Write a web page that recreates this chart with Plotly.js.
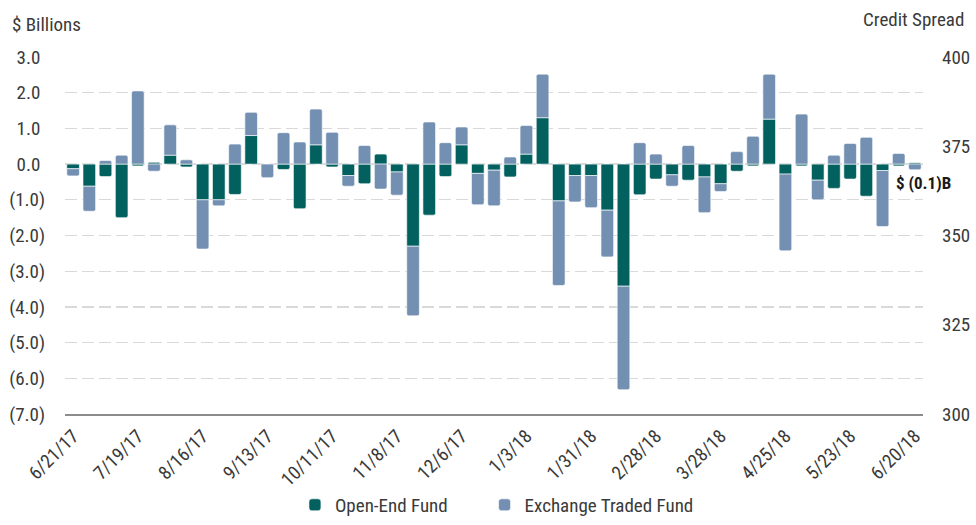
<!DOCTYPE html>
<html>
<head>
<meta charset="utf-8">
<script src="https://cdn.plot.ly/plotly-3.0.1.min.js"></script>
<style>
  html, body { margin: 0; padding: 0; background: #fff; }
  #chart { width: 976px; height: 525px; }
</style>
</head>
<body>
<div id="chart"></div>
<script>
const weeks = ["6/21/17","6/28/17","7/5/17","7/12/17","7/19/17","7/26/17","8/2/17","8/9/17","8/16/17","8/23/17",
  "8/30/17","9/6/17","9/13/17","9/20/17","9/27/17","10/4/17","10/11/17","10/18/17","10/25/17","11/1/17",
  "11/8/17","11/15/17","11/22/17","11/29/17","12/6/17","12/13/17","12/20/17","12/27/17","1/3/18","1/10/18",
  "1/17/18","1/24/18","1/31/18","2/7/18","2/14/18","2/21/18","2/28/18","3/7/18","3/14/18","3/21/18",
  "3/28/18","4/4/18","4/11/18","4/18/18","4/25/18","5/2/18","5/9/18","5/16/18","5/23/18","5/30/18",
  "6/6/18","6/13/18","6/20/18"];

const openEndFund = [-0.13, -0.62, -0.35, -1.5, -0.05, 0.05, 0.25, -0.08, -1.0, -1.0,
  -0.85, 0.8, 0.0, -0.15, -1.25, 0.54, -0.08, -0.32, -0.55, 0.28,
  -0.22, -2.3, -1.43, -0.35, 0.54, -0.26, -0.17, -0.36, 0.28, 1.3,
  -1.03, -0.32, -0.32, -1.29, -3.42, -0.86, -0.42, -0.3, -0.45, -0.36,
  -0.55, -0.2, -0.05, 1.26, -0.28, -0.05, -0.45, -0.68, -0.42, -0.9,
  -0.18, -0.05, 0.04];

const exchangeTradedFund = [-0.2, -0.7, 0.1, 0.25, 2.05, -0.2, 0.85, 0.12, -1.38, -0.17,
  0.56, 0.65, -0.38, 0.88, 0.62, 1.0, 0.89, -0.3, 0.52, -0.7,
  -0.65, -1.95, 1.18, 0.6, 0.5, -0.88, -1.0, 0.2, 0.8, 1.22,
  -2.37, -0.74, -0.9, -1.31, -2.9, 0.6, 0.28, -0.32, 0.52, -1.0,
  -0.22, 0.35, 0.78, 1.26, -2.15, 1.4, -0.55, 0.25, 0.58, 0.75,
  -1.57, 0.3, -0.16];

const leftTickVals = [3, 2, 1, 0, -1, -2, -3, -4, -5, -6, -7];
const rightTickVals = [300, 325, 350, 375, 400];

const FONT = "'Roboto Condensed', 'Liberation Sans Narrow', 'DejaVu Sans Condensed', 'Arial Narrow', Roboto, sans-serif";
const TXT = '#3a3a3a';
const DARK = '#02605f';
const LIGHT = '#7390b3';

function fmt(v) {
  const s = Math.abs(v).toFixed(1);
  return v < 0 ? '(' + s + ')' : s + '\u2008';
}

const lastIdx = weeks.length - 1;
const lastTotal = openEndFund[lastIdx] + exchangeTradedFund[lastIdx];
const lastBottom = Math.min(0, openEndFund[lastIdx]) + Math.min(0, exchangeTradedFund[lastIdx]);

const data = [
  {type: 'bar', name: 'Open-End Fund', x: weeks, y: openEndFund, legend: 'legend',
   marker: {color: DARK, line: {color: '#ffffff', width: 0.6}}, hoverinfo: 'x+y'},
  {type: 'bar', name: 'Exchange Traded Fund', x: weeks, y: exchangeTradedFund, legend: 'legend2',
   marker: {color: LIGHT, line: {color: '#ffffff', width: 0.6}}, hoverinfo: 'x+y'},
  {type: 'scatter', x: [], y: [], yaxis: 'y2', showlegend: false, hoverinfo: 'skip'}
];

const legendBase = {orientation: 'h', xanchor: 'left', y: -0.308, yanchor: 'bottom',
                    font: {family: FONT, size: 19, color: TXT}, bgcolor: 'rgba(0,0,0,0)'};

const layout = {
  width: 976, height: 525,
  margin: {l: 65, r: 53, t: 57, b: 111, pad: 0, autoexpand: false},
  paper_bgcolor: '#ffffff', plot_bgcolor: '#ffffff',
  barmode: 'relative', bargap: 0.22, barcornerradius: 2,
  font: {family: FONT, size: 19, color: TXT},
  showlegend: true,
  legend: Object.assign({}, legendBase, {x: 0.268}),
  legend2: Object.assign({}, legendBase, {x: 0.489}),
  xaxis: {type: 'category', range: [-0.5, weeks.length - 0.5], tickmode: 'linear', tick0: 0, dtick: 4,
          tickangle: -45, showgrid: false, zeroline: false, showline: true, linecolor: '#8c8c8c', linewidth: 1.5,
          ticks: '', ticklabelstandoff: 2, automargin: false, tickfont: {family: FONT, size: 19, color: TXT}, fixedrange: true},
  yaxis: {range: [-7, 3], tickmode: 'array', tickvals: leftTickVals, ticktext: leftTickVals.map(fmt),
          showgrid: true, gridcolor: '#d9d9d9', gridwidth: 1.3, griddash: '12px,5px', zeroline: false,
          showline: false, ticks: '', ticklabelstandoff: 19, automargin: false, tickfont: {family: FONT, size: 19, color: TXT}, fixedrange: true},
  yaxis2: {overlaying: 'y', side: 'right', range: [300, 400], tickmode: 'array', tickvals: rightTickVals,
           showgrid: false, zeroline: false, showline: false, ticks: '', ticklabelstandoff: 18, automargin: false,
           tickfont: {family: FONT, size: 19, color: TXT}, fixedrange: true},
  annotations: [
    {xref: 'paper', yref: 'paper', x: -0.064, y: 1.09, xanchor: 'left', yanchor: 'middle',
     text: '$ Billions', showarrow: false, font: {family: FONT, size: 19, color: TXT}},
    {xref: 'paper', yref: 'paper', x: 1.05, y: 1.104, xanchor: 'right', yanchor: 'middle',
     text: 'Credit Spread', showarrow: false, font: {family: FONT, size: 19, color: TXT}},
    {xref: 'x', yref: 'y', x: weeks[lastIdx], y: lastBottom, xanchor: 'center', yanchor: 'middle',
     xshift: 9, yshift: -13, showarrow: false,
     text: '<b>$ ' + fmt(Math.round(lastTotal * 10) / 10).trim() + 'B</b>',
     font: {family: FONT, size: 17, color: '#1a1a1a'}}
  ]
};

Plotly.newPlot('chart', data, layout, {displayModeBar: false, staticPlot: true});
</script>
</body>
</html>
